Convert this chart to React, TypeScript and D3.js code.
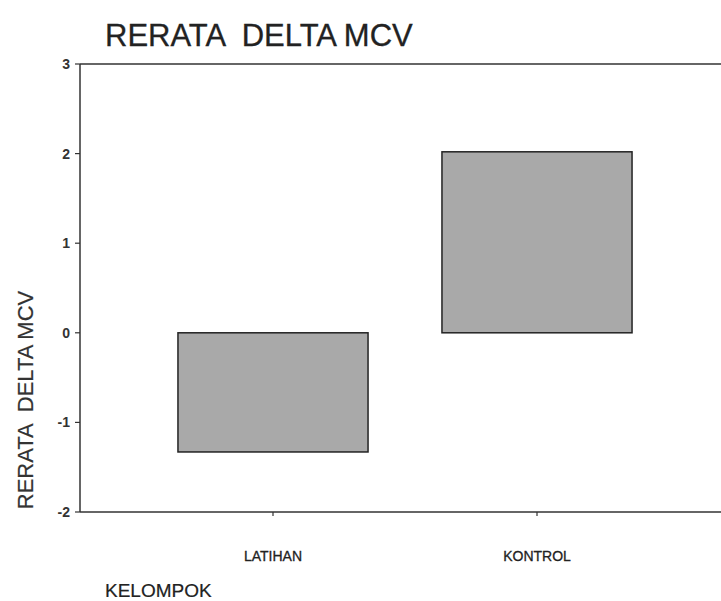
import React from "react";
import * as d3 from "d3";

const categories = ["LATIHAN", "KONTROL"];
const values = [-1.33, 2.02];
const yTicks = [-2, -1, 0, 1, 2, 3];

const W = 721;
const H = 601;
const FONT = "'Liberation Sans', Arial, sans-serif";

export default function App() {
  const y = d3.scaleLinear().domain([-2, 3]).range([512, 64]);
  const x = d3.scaleBand<string>().domain(categories).range([141, 669]).paddingInner(0.28).paddingOuter(0.14);
  const left = 80;
  const pre = { whiteSpace: "pre" as const };
  return (
    <svg width={W} height={H} style={{ position: "absolute", left: 0, top: 0, background: "#fff" }}>
      <text x={105} y={46} fontFamily={FONT} fontSize={31} fill="#222" stroke="#222" strokeWidth={0.3} style={pre}>RERATA  DELTA MCV</text>
      <line x1={left} x2={W} y1={y(3)} y2={y(3)} stroke="#333" strokeWidth={1.5} />
      <line x1={left} x2={W} y1={y(-2)} y2={y(-2)} stroke="#333" strokeWidth={1.5} />
      <line x1={left} x2={left} y1={y(3)} y2={y(-2)} stroke="#333" strokeWidth={1.5} />
      {yTicks.map((t) => (
        <g key={t}>
          <line x1={left - 5} x2={left} y1={y(t)} y2={y(t)} stroke="#333" strokeWidth={1.2} />
          <text x={left - 10} y={y(t)} dy="0.35em" textAnchor="end" fontFamily={FONT} fontSize={14} fontWeight="bold" fill="#333">{t}</text>
        </g>
      ))}
      {categories.map((c, i) => {
        const v = values[i];
        const x0 = x(c)!;
        return (
          <g key={c}>
            <rect x={x0} width={x.bandwidth()} y={y(Math.max(0, v))} height={Math.abs(y(v) - y(0))} fill="#a9a9a9" stroke="#222" strokeWidth={1.5} />
            <line x1={x0 + x.bandwidth() / 2} x2={x0 + x.bandwidth() / 2} y1={y(-2)} y2={y(-2) + 4} stroke="#333" strokeWidth={1.2} />
            <text x={x0 + x.bandwidth() / 2} y={561} textAnchor="middle" fontFamily={FONT} fontSize={14} fill="#222" stroke="#222" strokeWidth={0.3}>{c}</text>
          </g>
        );
      })}
      <text transform={`translate(33, 400) rotate(-90)`} textAnchor="middle" fontFamily={FONT} fontSize={22} fill="#333" stroke="#333" strokeWidth={0.2} style={pre}>RERATA  DELTA MCV</text>
      <text x={105} y={597} fontFamily={FONT} fontSize={19} fill="#222" stroke="#222" strokeWidth={0.2}>KELOMPOK</text>
    </svg>
  );
}
